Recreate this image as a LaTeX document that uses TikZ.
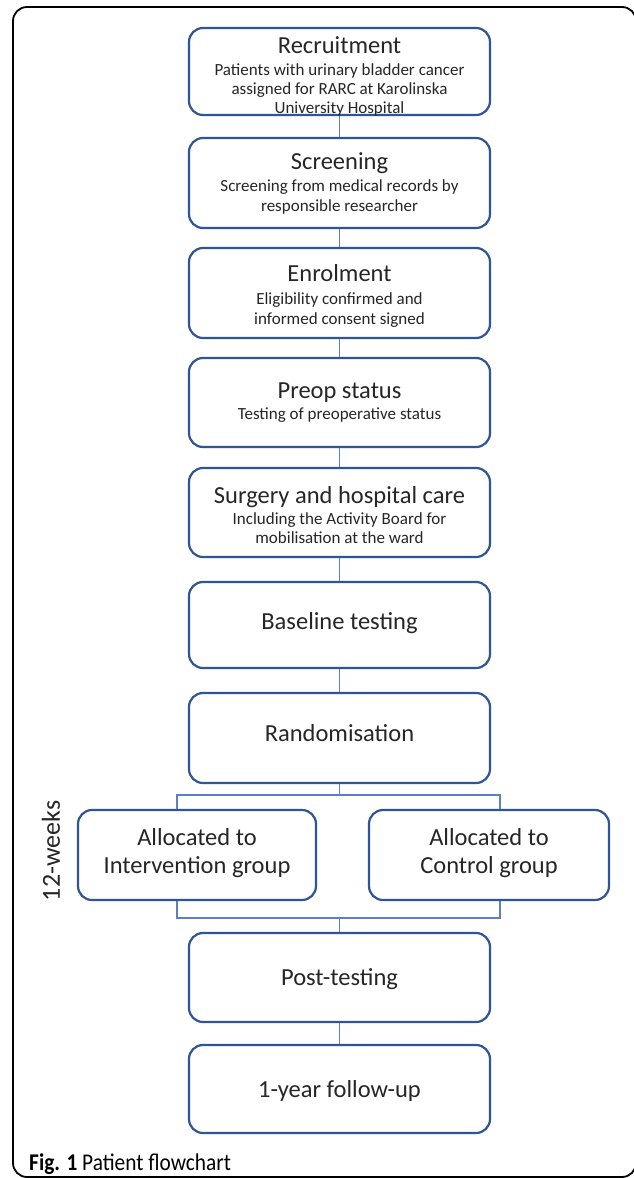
\documentclass[tikz,border=0pt]{standalone}
\usepackage{fontspec}
\setmainfont{Carlito}
\definecolor{boxblue}{HTML}{2F5597}
\definecolor{linkblue}{HTML}{5B7FC0}
\definecolor{txt}{HTML}{262626}
\begin{document}
\begin{tikzpicture}[x=1pt,y=-1pt,
  box/.style={draw=boxblue, line width=2.2pt, rounded corners=14pt, fill=white, inner sep=0pt},
  title/.style={font=\fontsize{24.5}{28}\selectfont, text=txt, inner sep=0pt, anchor=base},
  sub/.style={font=\fontsize{17}{20}\selectfont, text=txt, inner sep=0pt, anchor=base},
  link/.style={draw=linkblue, line width=1.3pt}]
\useasboundingbox (0,0) rectangle (634,1178);
\fill[white] (0,0) rectangle (634,1178);
\draw[line width=1.8pt, rounded corners=14pt] (13,7) rectangle (636,1177);

% connector coordinates
\coordinate (bt) at (339.5,795);
\coordinate (btl) at (177,795);
\coordinate (btr) at (500,795);
\coordinate (bb) at (339.5,918);
\coordinate (bbl) at (177,918);
\coordinate (bbr) at (500,918);

% boxes
\node[box, minimum width=301pt, minimum height=87pt] (rec) at (339.5,71.5) {};
\node[box, minimum width=301pt, minimum height=90pt] (scr) at (339.5,183) {};
\node[box, minimum width=301pt, minimum height=90pt] (enr) at (339.5,293) {};
\node[box, minimum width=301pt, minimum height=89pt] (pre) at (339.5,402.5) {};
\node[box, minimum width=301pt, minimum height=89pt] (sur) at (339.5,512.5) {};
\node[box, minimum width=301pt, minimum height=86pt] (bas) at (339.5,625) {};
\node[box, minimum width=301pt, minimum height=90pt] (rnd) at (339.5,738) {};
\node[box, minimum width=238pt, minimum height=90pt] (int) at (197,855) {};
\node[box, minimum width=240pt, minimum height=90pt] (ctl) at (489,855) {};
\node[box, minimum width=301pt, minimum height=89pt] (pst) at (339.5,977.5) {};
\node[box, minimum width=301pt, minimum height=88pt] (fol) at (339.5,1089) {};

% connectors
\draw[link] (rec.south) -- (scr.north);
\draw[link] (scr.south) -- (enr.north);
\draw[link] (enr.south) -- (pre.north);
\draw[link] (pre.south) -- (sur.north);
\draw[link] (sur.south) -- (bas.north);
\draw[link] (bas.south) -- (rnd.north);
\draw[link] (rnd.south) -- (bt);
\draw[link] (btl |- int.north) -- (btl) -- (btr) -- (btr |- ctl.north);
\draw[link] (bbl |- int.south) -- (bbl) -- (bbr) -- (bbr |- ctl.south);
\draw[link] (bb) -- (pst.north);
\draw[link] (pst.south) -- (fol.north);

% texts
\node[title] (t1) at (339.5,53) {Recruitment};
\node[sub] (s1a) at (339.5,75) {Patients with urinary bladder cancer};
\node[sub] (s1b) at (339.5,94) {assigned for RARC at Karolinska};
\node[sub] (s1c) at (339.5,113) {University Hospital};

\node[title] (t2) at (339.5,169) {Screening};
\node[sub] (s2a) at (339.5,191) {Screening from medical records by};
\node[sub] (s2b) at (339.5,211) {responsible researcher};

\node[title] (t3) at (339.5,281) {Enrolment};
\node[sub] (s3a) at (339.5,304) {Eligibility confirmed and};
\node[sub] (s3b) at (339.5,324) {informed consent signed};

\node[title] (t4) at (339.5,398) {Preop status};
\node[sub] (s4a) at (339.5,419) {Testing of preoperative status};

\node[title] (t5) at (339.5,503) {Surgery and hospital care};
\node[sub] (s5a) at (339.5,524) {Including the Activity Board for};
\node[sub] (s5b) at (339.5,543) {mobilisation at the ward};

\node[title] (t6) at (339.5,629) {Baseline testing};
\node[title] (t7) at (339.5,741) {Randomisation};
\node[title] (t8a) at (197,845) {Allocated to};
\node[title] (t8b) at (197,873) {Intervention group};
\node[title] (t9a) at (489,845) {Allocated to};
\node[title] (t9b) at (489,873) {Control group};
\node[title] (t10) at (339.5,985) {Post-testing};
\node[title] (t11) at (339.5,1097) {1-year follow-up};

\node[rotate=90, font=\fontsize{26}{30}\selectfont, text=txt, inner sep=0pt] (wk) at (51,851) {12-weeks};

\node[anchor=base west, inner sep=0pt, font=\fontsize{24}{28}\selectfont, text=black] (cap) at (29,1170) {\scalebox{0.89}[1]{\textbf{Fig. 1} Patient flowchart}};
\end{tikzpicture}
\end{document}
